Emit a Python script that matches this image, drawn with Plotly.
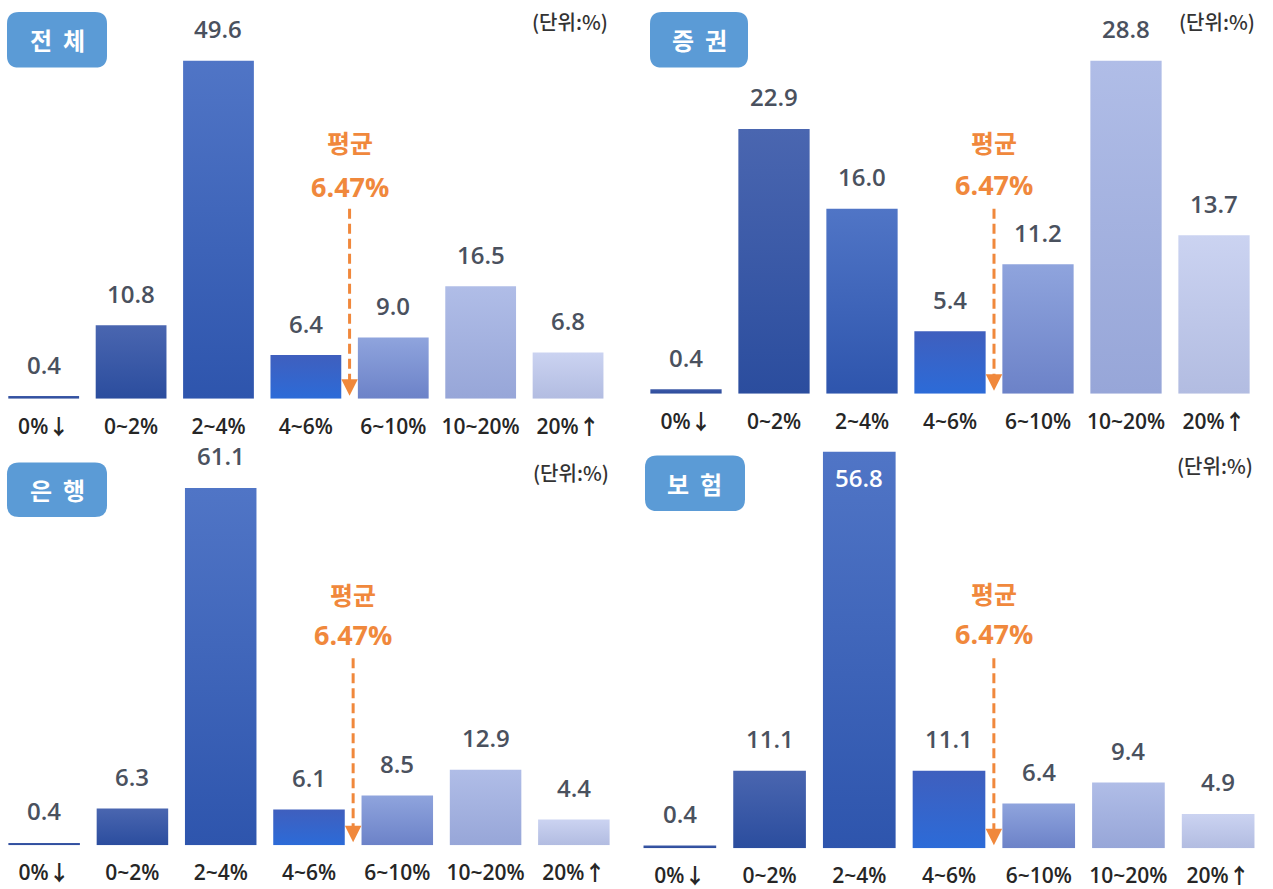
import plotly.graph_objects as go

# ---------------- data ----------------
categories = ["0%↓", "0~2%", "2~4%", "4~6%", "6~10%", "10~20%", "20%↑"]
panel_names = ["전 체", "증 권", "은 행", "보 험"]
total_vals = [0.4, 10.8, 49.6, 6.4, 9.0, 16.5, 6.8]
securities_vals = [0.4, 22.9, 16.0, 5.4, 11.2, 28.8, 13.7]
bank_vals = [0.4, 6.3, 61.1, 6.1, 8.5, 12.9, 4.4]
insurance_vals = [0.4, 11.1, 56.8, 11.1, 6.4, 9.4, 4.9]
average_rate = 6.47
unit_label = "(단위:%)"
avg_title = "평균"

series = [total_vals, securities_vals, bank_vals, insurance_vals]

# ---------------- styles ----------------
W, H = 1273, 889
FONT = "Open Sans, Noto Sans, Noto Sans CJK KR, sans-serif"
KFONT = "Noto Sans CJK KR, Noto Sans, sans-serif"
ORANGE = "#f0883c"
BADGE = "#5b9bd6"
VAL_COLOR = "#4a515e"
CAT_COLOR = "#262626"
# (top, bottom) gradient colours per category
bar_colors = [
    ("#3d5aa8", "#2c4b9b"),
    ("#4a66b0", "#2b4d9e"),
    ("#5075c6", "#2e55ad"),
    ("#3f5fbe", "#2c6bd8"),
    ("#8fa4dd", "#6c82c8"),
    ("#b0bde7", "#97a6d8"),
    ("#cbd3f1", "#b2bce1"),
]
HALF = 0.405  # half bar width in category units

# panel geometry in pixels
panels = [
    dict(x0=-0.75, x1=611.75, base=401, top=0, scale=6.855,
         badge=(7, 107, 12, 68), unit=(570, 22),
         avg_t=143, avg_v=188, arr_top=210, inside=None),
    dict(x0=642, x1=1258, base=396, top=0, scale=11.63,
         badge=(650, 748, 12, 68), unit=(1217, 22),
         avg_t=143, avg_v=186, arr_top=210, inside=None),
    dict(x0=0, x1=618, base=850, top=445, scale=5.88,
         badge=(7, 107, 465, 520), unit=(571, 475),
         avg_t=597, avg_v=638, arr_top=662, inside=None),
    dict(x0=635, x1=1263, base=853, top=445, scale=7.02,
         badge=(645, 745, 458, 514), unit=(1215, 468),
         avg_t=596, avg_v=637, arr_top=662, inside=2),
]


def fx(px):
    return px / W


def fy(py):
    return 1 - py / H


fig = go.Figure()
shapes = []
annotations = []

for k, (p, vals, name) in enumerate(zip(panels, series, panel_names)):
    sfx = "" if k == 0 else str(k + 1)
    xa, ya = "x" + sfx, "y" + sfx
    xl, yl = "xaxis" + sfx, "yaxis" + sfx

    # bars as gradient-filled rectangles in data coordinates
    for i, v in enumerate(vals):
        top_c, bot_c = bar_colors[i]
        fig.add_trace(go.Scatter(
            x=[i - HALF, i + HALF, i + HALF, i - HALF, i - HALF],
            y=[0, 0, v, v, 0],
            fill="toself", mode="lines", line=dict(width=0),
            fillcolor=top_c,
            fillgradient=dict(type="vertical",
                              colorscale=[[0, bot_c], [1, top_c]]),
            hoverinfo="skip", showlegend=False,
            xaxis=xa, yaxis=ya,
        ))
        # value labels
        if p["inside"] == i:
            annotations.append(dict(
                x=i, y=v, xref=xa, yref=ya, text=f"{v:.1f}",
                showarrow=False, yanchor="middle", yshift=-26,
                font=dict(family=FONT, size=24, color="white", weight=600)))
        else:
            annotations.append(dict(
                x=i, y=v, xref=xa, yref=ya, text=f"{v:.1f}",
                showarrow=False, yanchor="middle", yshift=32,
                font=dict(family=FONT, size=24, color=VAL_COLOR, weight=600)))

    yr = (p["base"] - p["top"]) / p["scale"]
    fig.update_layout(**{
        xl: dict(domain=[max(0, fx(p["x0"])), min(1, fx(p["x1"]))],
                 range=[-0.5, 6.5], tickvals=list(range(7)),
                 ticktext=categories, showgrid=False, zeroline=False,
                 showline=False, ticks="", ticklabelstandoff=13,
                 tickfont=dict(family=FONT, size=21, color=CAT_COLOR, weight=600),
                 anchor=ya, fixedrange=True),
        yl: dict(domain=[fy(p["base"]), fy(p["top"])], range=[0, yr],
                 visible=False, anchor=xa, fixedrange=True),
    })

    # badge (rounded rectangle)
    bx0, bx1, by0, by1 = p["badge"]
    r = 12
    rx, ry = r / W, r / H
    X0, X1, Y0, Y1 = fx(bx0), fx(bx1), fy(by1), fy(by0)
    path = (f"M {X0+rx},{Y0} L {X1-rx},{Y0} Q {X1},{Y0} {X1},{Y0+ry} "
            f"L {X1},{Y1-ry} Q {X1},{Y1} {X1-rx},{Y1} "
            f"L {X0+rx},{Y1} Q {X0},{Y1} {X0},{Y1-ry} "
            f"L {X0},{Y0+ry} Q {X0},{Y0} {X0+rx},{Y0} Z")
    shapes.append(dict(type="path", path=path, xref="paper", yref="paper",
                       fillcolor=BADGE, line=dict(width=0), layer="above"))
    annotations.append(dict(
        x=fx((bx0 + bx1) / 2), y=fy((by0 + by1) / 2), xref="paper", yref="paper",
        text=f"<b>{name.replace(' ', '&nbsp;&nbsp;')}</b>", showarrow=False,
        xanchor="center", yanchor="middle",
        font=dict(family=KFONT, size=24, color="white")))

    # unit label
    annotations.append(dict(
        x=fx(p["unit"][0]), y=fy(p["unit"][1]), xref="paper", yref="paper",
        text=unit_label, showarrow=False, xanchor="center", yanchor="middle",
        font=dict(family=KFONT, size=20, color="#333333", weight=500)))

    # average marker between 4~6% and 6~10%
    ax_pos = 3.5
    annotations.append(dict(
        x=ax_pos, y=fy(p["avg_t"]), xref=xa, yref="paper",
        text=f"<b>{avg_title}</b>", showarrow=False, yanchor="middle",
        font=dict(family=KFONT, size=25, color=ORANGE)))
    annotations.append(dict(
        x=ax_pos, y=fy(p["avg_v"]), xref=xa, yref="paper",
        text=f"<b>{average_rate:.2f}%</b>", showarrow=False, yanchor="middle",
        font=dict(family=FONT, size=27, color=ORANGE)))
    shapes.append(dict(
        type="line", xref=xa, yref="paper", x0=ax_pos, x1=ax_pos,
        y0=fy(p["arr_top"]), y1=fy(p["base"] - 14),
        line=dict(color=ORANGE, width=3, dash="10px,5px")))
    annotations.append(dict(
        x=ax_pos, y=0, xref=xa, yref=ya, text="", showarrow=True,
        ax=0, ay=-16, arrowhead=2, arrowsize=1.1, arrowwidth=3,
        arrowcolor=ORANGE, yshift=3))

fig.update_layout(
    width=W, height=H,
    margin=dict(l=0, r=0, t=0, b=0),
    paper_bgcolor="white", plot_bgcolor="white",
    showlegend=False,
    shapes=shapes, annotations=annotations,
    font=dict(family=FONT),
)

fig.write_html("out.html")
